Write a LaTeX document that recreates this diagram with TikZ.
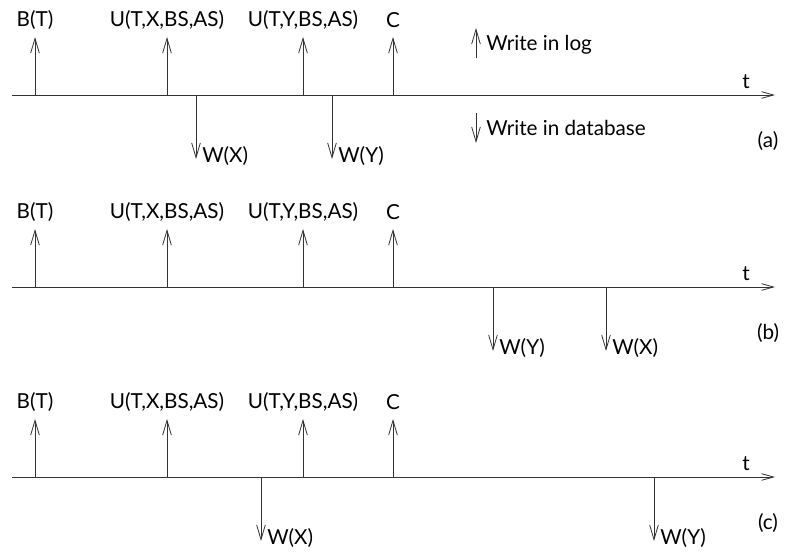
\documentclass[tikz,border=0pt]{standalone}
\usepackage{fontspec}
\setmainfont{Lato}
\usepackage{tikz}
\usetikzlibrary{arrows.meta}
\definecolor{lineG}{HTML}{333333}
\tikzset{
  tline/.style={lineG,line width=0.6pt,-{Straight Barb[length=11pt,width=6.5pt]}},
  taxis/.style={lineG,line width=0.6pt,-{Straight Barb[length=9pt,width=5pt]}},
  tlab/.style={font=\fontsize{15.5}{18}\selectfont,inner sep=0pt},
  wlab/.style={tlab,anchor=west}
}

\begin{document}
\begin{tikzpicture}[x=0.75pt,y=-0.75pt]
\useasboundingbox (0,0) rectangle (785,552);
% three time lines, log writes above
\foreach \pn/\ay in {a/95,b/287,c/477}{
  \coordinate (s\pn) at (12,\ay);
  \coordinate (e\pn) at (775,\ay);
  \draw[taxis] (s\pn)--(e\pn);
  \node[tlab] (t\pn) at (746,\ay-13){t};
  \node[tlab] (p\pn) at (768,\ay+46){(\pn)};
  \foreach \k/\lx/\txt in {1/35/B(T),2/167/{U(T,X,BS,AS)},3/303/{U(T,Y,BS,AS)},4/393/C}{
    \coordinate (f\pn\k) at (\lx,\ay);
    \node[tlab] (l\pn\k) at (\lx,\ay-75){\txt};
    \draw[tline] (f\pn\k)--(\lx,\ay-58) coordinate (h\pn\k);
  }
}
% database writes below
\foreach \pn/\ay/\k/\wx/\txt in {a/95/1/196/W(X),a/95/2/332/W(Y),b/287/1/493/W(Y),b/287/2/606/W(X),c/477/1/261/W(X),c/477/2/654/W(Y)}{
  \coordinate (d\pn\k) at (\wx,\ay);
  \coordinate (g\pn\k) at (\wx,\ay+64);
  \draw[tline] (d\pn\k)--(g\pn\k);
  \node[wlab] (w\pn\k) at (\wx+6,\ay+61){\txt};
}
% legend
\coordinate (lu0) at (476,58);
\coordinate (lu1) at (476,28);
\coordinate (ld0) at (476,113);
\coordinate (ld1) at (476,143);
\draw[tline] (lu0)--(lu1);
\draw[tline] (ld0)--(ld1);
\node[wlab] (leglog) at (486,45){Write in log};
\node[wlab] (legdb) at (486,128){Write in database};
\end{tikzpicture}
\end{document}
